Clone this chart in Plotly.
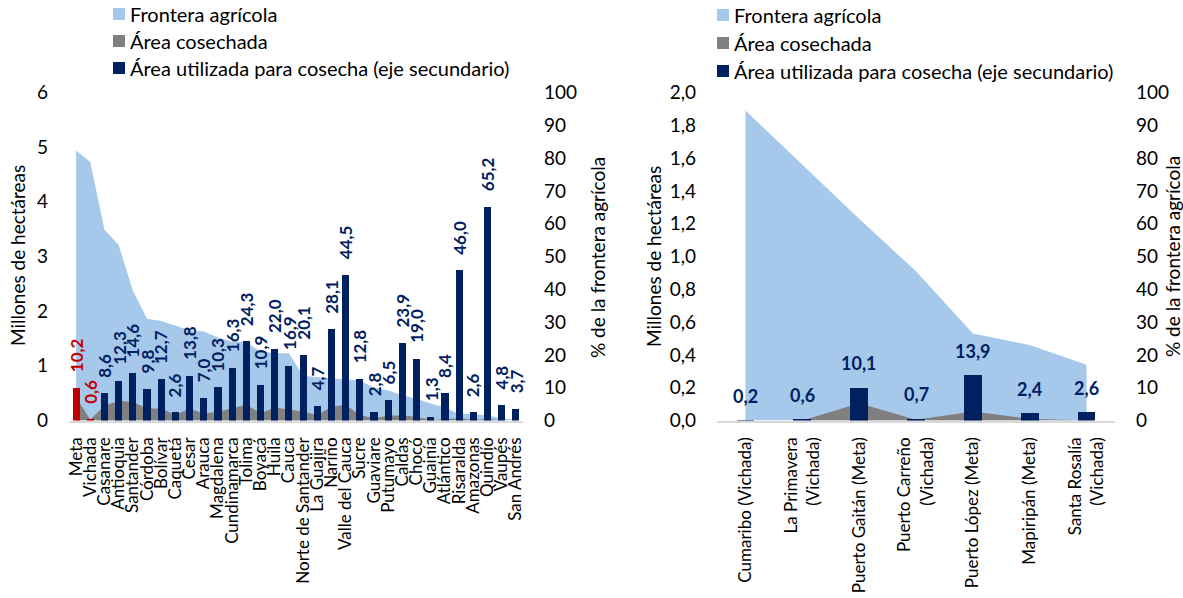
import plotly.graph_objects as go

# ---- Departamentos ----
departamentos = ["Meta", "Vichada", "Casanare", "Antioquia", "Santander", "Córdoba", "Bolívar",
                 "Caquetá", "Cesar", "Arauca", "Magdalena", "Cundinamarca", "Tolima", "Boyacá",
                 "Huila", "Cauca", "Norte de Santander", "La Guajira", "Nariño", "Valle del Cauca",
                 "Sucre", "Guaviare", "Putumayo", "Caldas", "Chocó", "Guainía", "Atlántico",
                 "Risaralda", "Amazonas", "Quindío", "Vaupés", "San Andrés"]
frontera_dep = [4.94, 4.73, 3.49, 3.21, 2.38, 1.86, 1.82, 1.74, 1.65, 1.63, 1.52, 1.44, 1.43, 1.26,
                1.23, 1.23, 0.82, 0.79, 0.77, 0.75, 0.73, 0.60, 0.55, 0.46, 0.40, 0.31, 0.24, 0.12,
                0.12, 0.09, 0.04, 0.01]
cosechada_dep = [0.42, 0.02, 0.27, 0.36, 0.34, 0.22, 0.22, 0.10, 0.22, 0.13, 0.16, 0.22, 0.29, 0.13,
                 0.24, 0.20, 0.16, 0.10, 0.25, 0.29, 0.10, 0.04, 0.09, 0.09, 0.07, 0.01, 0.03, 0.04,
                 0.01, 0.03, 0.00, 0.00]
pct_dep = [10.2, 0.6, 8.6, 12.3, 14.6, 9.8, 12.7, 2.6, 13.8, 7.0, 10.3, 16.3, 24.3, 10.9, 22.0, 16.9,
           20.1, 4.7, 28.1, 44.5, 12.8, 2.8, 6.5, 23.9, 19.0, 1.3, 8.4, 46.0, 2.6, 65.2, 4.8, 3.7]
destacados = ["Meta", "Vichada"]

# ---- Municipios ----
municipios = ["Cumaribo (Vichada)", "La Primavera<br>(Vichada)", "Puerto Gaitán (Meta)",
              "Puerto Carreño<br>(Vichada)", "Puerto López (Meta)", "Mapiripán (Meta)",
              "Santa Rosalía<br>(Vichada)"]
frontera_mun = [1.89, 1.56, 1.23, 0.91, 0.53, 0.46, 0.34]
cosechada_mun = [0.0, 0.0, 0.105, 0.005, 0.055, 0.01, 0.0]
pct_mun = [0.2, 0.6, 10.1, 0.7, 13.9, 2.4, 2.6]

AZUL_CLARO = "#A6C8EA"
GRIS = "#808080"
AZUL_OSCURO = "#002060"
ROJO = "#C00000"
FONT = "Lato"
W, H = 1183, 598


def fmt(v):
    return f"{v:.1f}".replace(".", ",")


fig = go.Figure()

# Panel izquierdo
fig.add_trace(go.Scatter(x=departamentos, y=frontera_dep, mode="lines", line=dict(width=0),
                         fill="tozeroy", fillcolor=AZUL_CLARO, xaxis="x", yaxis="y",
                         showlegend=False, hoverinfo="skip"))
fig.add_trace(go.Scatter(x=departamentos, y=cosechada_dep, mode="lines", line=dict(width=0),
                         fill="tozeroy", fillcolor=GRIS, xaxis="x", yaxis="y",
                         showlegend=False, hoverinfo="skip"))
colores_dep = [ROJO if d in destacados else AZUL_OSCURO for d in departamentos]
fig.add_trace(go.Bar(x=departamentos, y=pct_dep, marker=dict(color=colores_dep, line=dict(width=0)),
                     width=0.5, xaxis="x", yaxis="y2", showlegend=False))

# Panel derecho
fig.add_trace(go.Scatter(x=municipios, y=frontera_mun, mode="lines", line=dict(width=0),
                         fill="tozeroy", fillcolor=AZUL_CLARO, xaxis="x2", yaxis="y3",
                         showlegend=False, hoverinfo="skip"))
fig.add_trace(go.Scatter(x=municipios, y=cosechada_mun, mode="lines", line=dict(width=0),
                         fill="tozeroy", fillcolor=GRIS, xaxis="x2", yaxis="y3",
                         showlegend=False, hoverinfo="skip"))
fig.add_trace(go.Bar(x=municipios, y=pct_mun, marker=dict(color=AZUL_OSCURO, line=dict(width=0)),
                     width=0.31, xaxis="x2", yaxis="y4", showlegend=False))

annotations = []
# Etiquetas de barras (departamentos), verticales
for d, v, c in zip(departamentos, pct_dep, colores_dep):
    annotations.append(dict(x=d, y=v, xref="x", yref="y2", text=fmt(v), showarrow=False,
                            textangle=-90, xanchor="center", yanchor="bottom", yshift=13,
                            font=dict(family=FONT, size=17, color=c, weight="bold")))
# Etiquetas de barras (municipios), horizontales
for m, v in zip(municipios, pct_mun):
    annotations.append(dict(x=m, y=v, xref="x2", yref="y4", text=fmt(v), showarrow=False,
                            xanchor="center", yanchor="bottom", yshift=11,
                            font=dict(family=FONT, size=18, color=AZUL_OSCURO, weight="bold")))

# Títulos de ejes
def titulo(texto, px_x, px_y):
    return dict(x=px_x / W, y=1 - px_y / H, xref="paper", yref="paper", text=texto,
                showarrow=False, textangle=-90, xanchor="center", yanchor="middle",
                font=dict(family=FONT, size=19, color="#000000"))

annotations += [titulo("Millones de hectáreas", 18, 256),
                titulo("% de la frontera agrícola", 598, 258),
                titulo("Millones de hectáreas", 653, 257),
                titulo("% de la frontera agrícola", 1172, 257)]

# Leyendas
shapes = []
entradas = [("Frontera agrícola", AZUL_CLARO), ("Área cosechada", GRIS),
            ("Área utilizada para cosecha (eje secundario)", AZUL_OSCURO)]
for x0, filas in [(113, [14, 41, 68]), (717, [15, 43, 71])]:
    for (texto, color), yc in zip(entradas, filas):
        shapes.append(dict(type="rect", xref="paper", yref="paper",
                           x0=x0 / W, x1=(x0 + 12) / W, y0=1 - (yc + 6) / H, y1=1 - (yc - 6) / H,
                           fillcolor=color, line=dict(width=0)))
        annotations.append(dict(x=(x0 + 15) / W, y=1 - yc / H, xref="paper", yref="paper",
                                text=texto, showarrow=False, xanchor="left", yanchor="middle",
                                font=dict(family=FONT, size=20, color="#000000")))

ydom = [1 - 420.5 / H, 1 - 92.5 / H]
eje_num = dict(showgrid=False, zeroline=False, showline=False, ticks="", automargin=False,
               tickfont=dict(family=FONT, size=19, color="#000000"), ticklabelstandoff=20)
eje_cat = dict(type="category", showgrid=False, zeroline=False, showline=True, automargin=False,
               linecolor="#D9D9D9", linewidth=2, ticks="", tickangle=-90, tickmode="linear",
               tick0=0, dtick=1, tickfont=dict(family=FONT, size=17, color="#000000"),
               ticklabelstandoff=8)

fig.update_layout(
    template="none",
    width=W, height=H, margin=dict(l=0, r=0, t=0, b=0, pad=0),
    paper_bgcolor="white", plot_bgcolor="rgba(0,0,0,0)",
    separators=",.", bargap=0, showlegend=False,
    xaxis=dict(domain=[69 / W, 523 / W], range=[-0.5, 31.5], anchor="y", **eje_cat),
    yaxis=dict(domain=ydom, range=[0, 6], dtick=1, anchor="x", **eje_num),
    yaxis2=dict(range=[0, 100], dtick=10, overlaying="y", side="right", anchor="x", **eje_num),
    xaxis2=dict(domain=[717 / W, 1115 / W], range=[-0.5, 6.5], anchor="y3", **eje_cat),
    yaxis3=dict(domain=ydom, range=[0, 2], dtick=0.2, tickformat=".1f", anchor="x2", **eje_num),
    yaxis4=dict(range=[0, 100], dtick=10, overlaying="y3", side="right", anchor="x2", **eje_num),
    annotations=annotations, shapes=shapes,
)

fig.write_html("out.html")
